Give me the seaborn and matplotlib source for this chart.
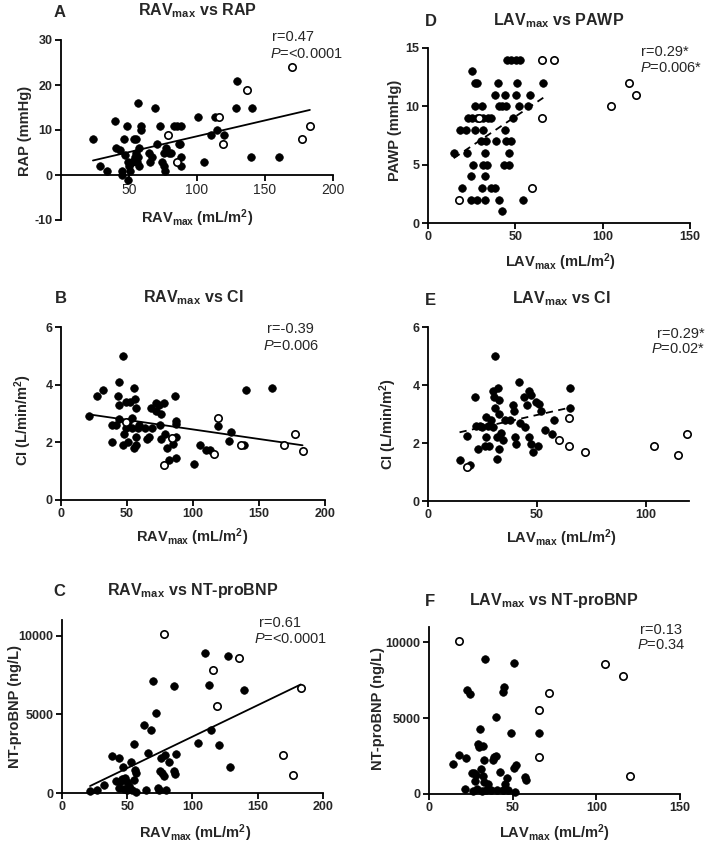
import matplotlib
matplotlib.use("Agg")
import matplotlib.pyplot as plt
import seaborn as sns

# ---- A: RAVmax vs RAP
a_fill_x = [23.5, 28.5, 33.5, 40, 40.5, 43.5, 44.5, 44.5, 46, 47, 48.5, 49, 50, 49.5, 51, 52.5, 53.5, 55, 56.5, 55,
            56.5, 57.5, 58.5, 59, 57.5, 56, 52.5, 54.5, 64.5, 65.5, 67, 69, 70.5, 73, 74.5, 76, 76.5, 75.5, 77.5, 79.5,
            81, 83, 85.5, 88, 86.5, 87.5, 88, 88, 101, 105.5, 110, 113.5, 115, 120, 128.5, 129.5, 140, 140.5, 160]
a_fill_y = [8, 2, 1, 12, 6, 5.5, 1, 0, 8, 4.5, 11, 3, 2, -1, 1, 3, 8, 8, 16, 5,
            4, 6, 10, 11, 2, 3, 3, 4, 5, 3, 4, 15, 7, 11, 3, 2, 1, 5, 6, 5,
            5, 11, 11, 11, 7, 7, 4, 2, 13, 3, 9, 13, 10, 9, 15, 21, 4, 15, 4]
a_open_x = [79, 85.5, 116, 119, 137, 170, 177, 183]
a_open_y = [9, 3, 13, 7, 19, 24, 8, 11]

# ---- B: RAVmax vs CI
b_fill_x = [21.5, 27, 32, 38.5, 39, 42, 43, 44, 44, 44, 47, 47, 48, 49, 49, 51, 51, 52, 54, 54,
            55, 55, 56, 57, 57, 57, 58, 59, 64, 65, 67, 68, 69, 72, 72, 74, 75, 76, 76, 78,
            79, 80, 82, 85, 86, 87, 87, 87, 87, 101, 105, 110, 113, 119, 127, 129, 139, 140, 160]
b_fill_y = [2.9, 3.6, 3.8, 2.0, 2.6, 2.6, 3.6, 4.1, 3.3, 2.8, 5.0, 1.9, 2.3, 2.5, 3.4, 2.7, 2.0, 3.4, 2.85, 2.5,
            1.8, 3.9, 3.5, 3.2, 2.2, 1.9, 2.5, 2.6, 2.5, 2.1, 2.2, 3.2, 2.5, 3.1, 3.35, 3.3, 2.6, 3.0, 2.1, 3.35,
            2.3, 1.8, 1.4, 1.95, 3.6, 2.65, 2.75, 1.45, 2.2, 1.25, 1.9, 1.75, 1.75, 2.55, 2.05, 2.35, 1.9, 3.8, 3.9]
b_open_x = [49, 78, 84, 116, 119, 136, 169, 177, 183]
b_open_y = [2.7, 1.2, 2.15, 1.6, 2.85, 1.9, 1.9, 2.3, 1.7]

# ---- C: RAVmax vs NT-proBNP
c_fill_x = [21.5, 27, 32, 38.5, 41.5, 43.5, 44, 44.5, 46, 46.5, 47.5, 48.5, 49.5, 50, 51.5, 53, 54, 55.5, 55.5, 56,
            56.5, 57, 64, 63, 66, 68.5, 69.5, 72, 73.5, 74.5, 75, 76, 76.5, 78, 79, 80, 82, 86, 86, 86.5,
            87, 104.5, 109.5, 113, 114.5, 120, 127.5, 129, 139.5]
c_fill_y = [100, 200, 500, 2330, 740, 320, 2220, 680, 890, 1650, 250, 950, 680, 210, 420, 1950, 210, 800, 3110, 1480,
            1270, 60, 210, 4300, 2540, 4020, 7100, 5080, 320, 210, 1420, 2220, 1270, 1100, 2430, 210, 1970, 1420, 6780, 1200,
            2500, 3180, 8900, 6890, 4030, 3030, 8690, 1650, 6570]
c_open_x = [78, 115.5, 118.5, 136, 169, 177, 183]
c_open_y = [10130, 7800, 5550, 8560, 2440, 1170, 6670]

# ---- D: LAVmax vs PAWP
d_fill_x = [25.4, 26.8, 28.1, 40.2, 50.7, 66, 45.5, 47.8, 50.3, 52.6, 38.2, 44, 50.3, 58.3,
            26.8, 31.2, 40.7, 42.6, 44.9, 52.2, 57.4, 22.9, 25.4, 28.1, 31.5, 34.4, 35.9, 48.8,
            18.2, 21.6, 26.8, 31.5, 44, 30.6, 33.1, 38.8, 44.9, 47.8, 14.7, 22.4, 32.5, 46.5,
            25.8, 31.5, 33.5, 43.4, 46.5, 24.5, 32.5, 19.7, 31.2, 36.3, 38.2, 24.9, 28.1, 32.5, 40.5, 54.5, 42.6]
d_fill_y = [13, 12, 12, 12, 12, 12, 14, 14, 14, 14, 11, 11, 11, 11,
            10, 10, 10, 10, 10, 10, 10, 9, 9, 9, 9, 9, 9, 9,
            8, 8, 8, 8, 8, 7, 7, 7, 7, 7, 6, 6, 6, 6,
            5, 5, 5, 5, 5, 4, 4, 3, 3, 3, 3, 2, 2, 2, 2, 2, 1]
d_open_x = [17.8, 29.3, 59.8, 65, 65, 72, 104.6, 115.3, 119]
d_open_y = [2, 9, 3, 9, 14, 14, 10, 12, 11]

# ---- E: LAVmax vs CI
e_fill_x = [14.5, 18, 19.5, 21.5, 22, 23, 24, 25, 26, 26.5, 26.5, 27.5, 28, 29, 30, 30, 30.5, 31, 31, 31.5,
            31.5, 32, 32.5, 32.5, 32.5, 33.5, 34.5, 35.5, 37.5, 39, 39.5, 40, 40.5, 42, 42.5, 44, 44.5, 45.5, 46.5, 46.5,
            47.5, 47.5, 48.5, 49.5, 50.5, 51, 52, 54, 57, 58, 65.5, 65.5]
e_fill_y = [1.43, 2.23, 1.25, 3.6, 2.6, 1.8, 2.6, 2.55, 1.9, 2.2, 2.9, 2.6, 1.9, 2.8, 2.55, 3.8, 3.6, 5.0, 3.2, 2.2,
            1.45, 3.9, 3.0, 3.5, 1.8, 2.35, 2.1, 2.8, 2.8, 3.3, 3.1, 2.2, 1.98, 4.1, 2.7, 3.6, 2.55, 3.3, 3.8, 2.2,
            1.98, 3.65, 1.7, 3.4, 1.9, 3.35, 3.1, 2.45, 2.3, 2.8, 3.2, 3.9]
e_open_x = [18, 60, 65, 65, 72, 104, 115, 119]
e_open_y = [1.17, 2.1, 2.85, 1.9, 1.7, 1.9, 1.6, 2.3]

# ---- F: LAVmax vs NT-proBNP
f_fill_x = [14.5, 18, 22, 21.5, 23, 24.5, 25.5, 26.5, 27, 27.5, 28, 28.5, 29, 30.5, 30, 31, 31.5, 32, 32.5, 33,
            33, 33.5, 34, 35.5, 37, 38, 39, 40, 40, 40.5, 42.5, 44, 44, 45, 45.5, 46.5, 47, 49, 50.5, 51,
            52, 51.5, 57.5, 58, 66]
f_fill_y = [1970, 2580, 2360, 330, 6880, 6570, 1380, 220, 1380, 870, 1270, 350, 3280, 4260, 3080, 1640, 220, 1200, 3170, 2250,
            760, 8860, 280, 680, 280, 2250, 2470, 2510, 5090, 280, 1480, 280, 6730, 7050, 680, 1050, 280, 4040, 8650, 1700,
            1920, 130, 1110, 940, 4040]
f_open_x = [18, 65.5, 65.5, 72, 105, 116, 120]
f_open_y = [10070, 5520, 2420, 6660, 8560, 7770, 1200]

rav = r"RAV$_{\mathrm{max}}$"
lav = r"LAV$_{\mathrm{max}}$"
xl_rav = rav + r" (mL/m$^{\mathrm{2}}$)"
xl_lav = lav + r" (mL/m$^{\mathrm{2}}$)"

sns.set_style("ticks")
plt.rcParams['font.family'] = ['Liberation Sans', 'DejaVu Sans']
plt.rcParams['mathtext.fontset'] = 'custom'
plt.rcParams['mathtext.rm'] = 'Liberation Sans:bold'
plt.rcParams['mathtext.bf'] = 'Liberation Sans:bold'
plt.rcParams['mathtext.it'] = 'Liberation Sans:italic'

W, H = 709, 844
fig = plt.figure(figsize=(W / 100, H / 100), dpi=100)


def ftext(x, y, s, **kw):
    fig.text(x / W, 1 - y / H, s, **kw)


# each panel: data, axes box in pixels (left, top, right, bottom), limits, ticks, fit, texts
panels = [
    dict(fx=a_fill_x, fy=a_fill_y, ox=a_open_x, oy=a_open_y, box=(61, 40, 333, 220),
         xlim=(0, 200), ylim=(-10, 30), xt=[50, 100, 150, 200], yt=[-10, 0, 10, 20, 30], fit='all', zero=True,
         letter=('A', 60, 17), title=(rav + " vs RAP", 197, 15.5), xl=(xl_rav, 197, 223), yl=("RAP (mmHg)", 25, 131),
         r=("r=0.47", 293, 41), p=("=<0.0001", 306, 58)),
    dict(fx=b_fill_x, fy=b_fill_y, ox=b_open_x, oy=b_open_y, box=(61, 327, 325, 500),
         xlim=(0, 200), ylim=(0, 6), xt=[0, 50, 100, 150, 200], yt=[0, 2, 4, 6], fit='all', zero=False,
         letter=('B', 61, 303), title=(rav + " vs CI", 193, 302), xl=(xl_rav, 192, 542),
         yl=(r"CI (L/min/m$^{\mathrm{2}}$)", 23, 420), r=("r=-0.39", 290, 333), p=("=0.006", 291, 350)),
    dict(fx=c_fill_x, fy=c_fill_y, ox=c_open_x, oy=c_open_y, box=(62, 620, 323, 793),
         xlim=(0, 200), ylim=(0, 11000), xt=[0, 50, 100, 150, 200], yt=[0, 5000, 10000], fit='all', zero=False,
         letter=('C', 59, 596), title=(rav + " vs NT-proBNP", 193, 595), xl=(xl_rav, 195, 838),
         yl=("NT-proBNP (ng/L)", 15, 706), r=("r=0.61", 280, 627), p=("=<0.0001", 290, 643)),
    dict(fx=d_fill_x, fy=d_fill_y, ox=d_open_x, oy=d_open_y, box=(428, 48, 690, 223),
         xlim=(0, 150), ylim=(0, 15), xt=[0, 50, 100, 150], yt=[0, 5, 10, 15], fit='filled', zero=False,
         letter=('D', 431, 26), title=(lav + " vs PAWP", 559, 25), xl=(xl_lav, 560, 267),
         yl=("PAWP (mmHg)", 395, 130), r=("r=0.29*", 665, 56), p=("=0.006*", 671, 72)),
    dict(fx=e_fill_x, fy=e_fill_y, ox=e_open_x, oy=e_open_y, box=(428, 327, 689, 501),
         xlim=(0, 120), ylim=(0, 6), xt=[0, 50, 100], yt=[0, 2, 4, 6], fit='filled', zero=False,
         letter=('E', 430, 305), title=(lav + " vs CI", 561, 303), xl=(xl_lav, 561, 543),
         yl=(r"CI (L/min/m$^{\mathrm{2}}$)", 388, 424), r=("r=0.29*", 681, 338), p=("=0.02*", 678, 353)),
    dict(fx=f_fill_x, fy=f_fill_y, ox=f_open_x, oy=f_open_y, box=(429, 627, 680, 794),
         xlim=(0, 150), ylim=(0, 11000), xt=[0, 50, 100, 150], yt=[0, 5000, 10000], fit=None, zero=False,
         letter=('F', 430, 606), title=(lav + " vs NT-proBNP", 554, 605), xl=(xl_lav, 554, 838),
         yl=("NT-proBNP (ng/L)", 378, 708), r=("r=0.13", 661, 634), p=("=0.34", 661, 649)),
]

for pn in panels:
    l, t, r, b = pn['box']
    ax = fig.add_axes([l / W, 1 - b / H, (r - l) / W, (b - t) / H])

    # regression line
    if pn['fit'] == 'all':
        fit_x = pn['fx'] + pn['ox']
        fit_y = pn['fy'] + pn['oy']
        ls = '-'
    elif pn['fit'] == 'filled':
        fit_x, fit_y = pn['fx'], pn['fy']
        ls = (0, (4, 3))
    if pn['fit'] is not None:
        sns.regplot(x=fit_x, y=fit_y, ax=ax, scatter=False, ci=None, truncate=True,
                    line_kws=dict(color='black', lw=1.3, ls=ls))

    sns.scatterplot(x=pn['fx'], y=pn['fy'], ax=ax, color='black', edgecolor='black',
                    s=30, linewidth=0.5, clip_on=False, zorder=3)
    sns.scatterplot(x=pn['ox'], y=pn['oy'], ax=ax, color='white', edgecolor='black',
                    s=28, linewidth=1.2, clip_on=False, zorder=4)

    ax.set_xlim(*pn['xlim'])
    ax.set_ylim(*pn['ylim'])
    ax.set_xticks(pn['xt'], [str(v) for v in pn['xt']], fontweight='bold', fontsize=9)
    ax.set_yticks(pn['yt'], [str(v) for v in pn['yt']], fontweight='bold', fontsize=9)
    ax.tick_params(direction='out', length=4, width=1.3, pad=2, color='black')
    sns.despine(ax=ax)
    for side in ['left', 'bottom']:
        ax.spines[side].set_linewidth(1.3)
        ax.spines[side].set_color('black')
    if pn['zero']:
        ax.spines['bottom'].set_position(('data', 0))
    ax.set_xlabel('')
    ax.set_ylabel('')

    s, x, y = pn['letter']
    ftext(x, y, s, ha='center', va='baseline', fontsize=12, fontweight='bold')
    s, x, y = pn['title']
    ftext(x, y, s, ha='center', va='baseline', fontsize=11.5, fontweight='bold')
    s, x, y = pn['xl']
    ftext(x, y, s, ha='center', va='baseline', fontsize=10.5, fontweight='bold')
    s, x, y = pn['yl']
    ftext(x, y, s, ha='center', va='center', rotation=90, fontsize=10.5, fontweight='bold')
    s, x, y = pn['r']
    ftext(x, y, s, ha='center', va='baseline', fontsize=10.5)
    s, x, y = pn['p']
    ftext(x, y, r"$\mathit{P}$" + s, ha='center', va='baseline', fontsize=10.5)

fig.savefig("out.png", dpi=100, facecolor='white')
